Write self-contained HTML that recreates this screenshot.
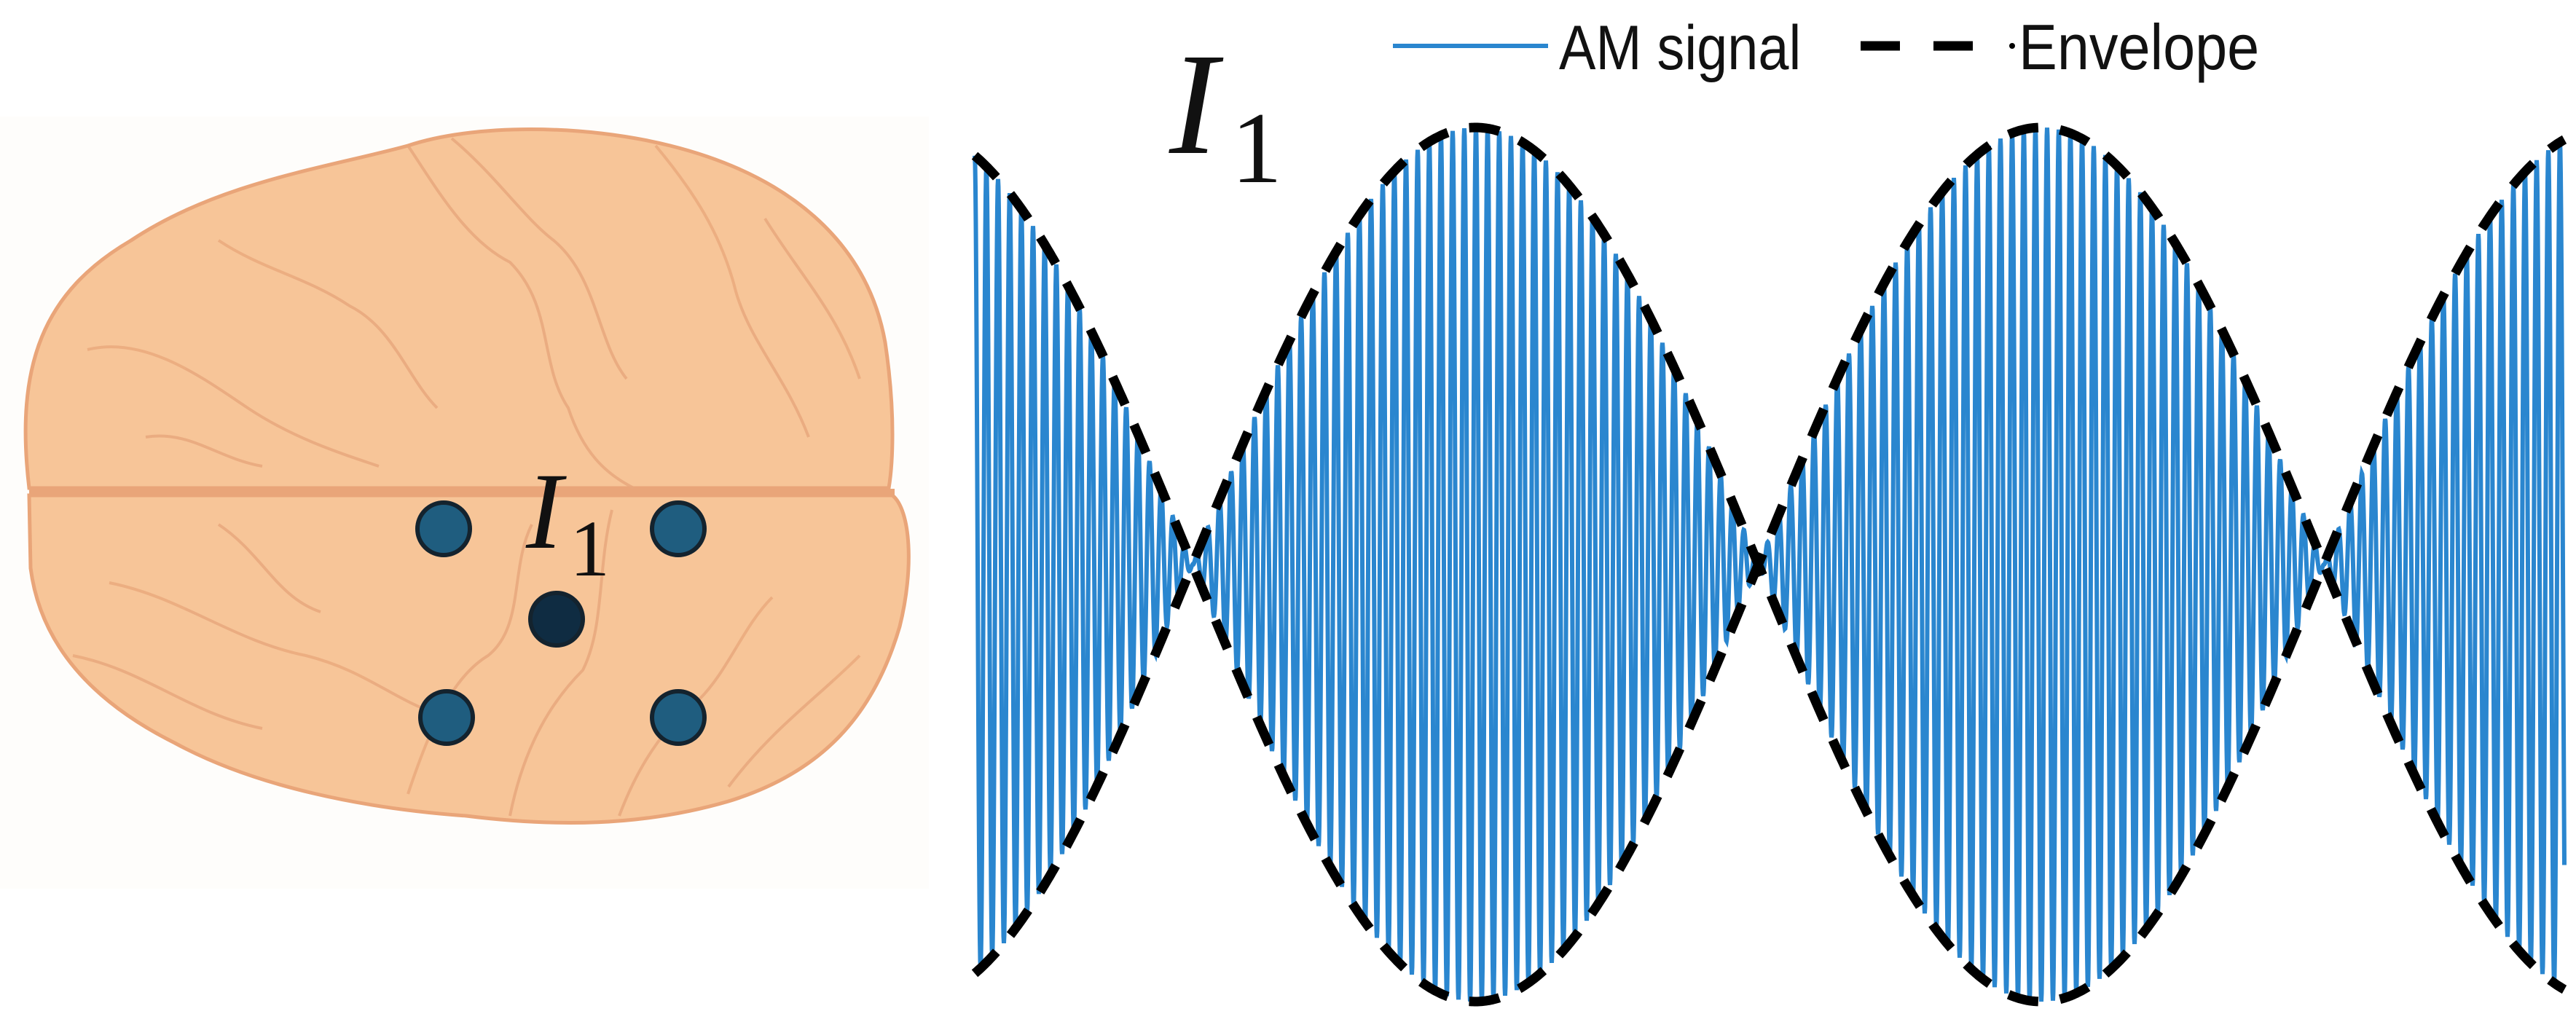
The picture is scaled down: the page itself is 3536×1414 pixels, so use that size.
<!DOCTYPE html>
<html><head><meta charset="utf-8"><style>
html,body{margin:0;padding:0;background:#fff;}
body{width:3536px;height:1414px;overflow:hidden;position:relative;}
svg{position:absolute;left:0;top:0;}
</style></head><body>
<svg id="s" width="3536" height="1414" viewBox="0 0 3536 1414" xmlns="http://www.w3.org/2000/svg">
<rect x="0" y="160" width="1275" height="1060" fill="#fefdfb"/>
<path d="M40,670 C20,500 60,400 180,330 C300,250 450,230 560,200 C650,170 800,170 920,200 C1080,240 1190,330 1215,470 C1230,570 1225,640 1220,670 Z" fill="#f7c598" stroke="#e9a579" stroke-width="5"/>
<path d="M40,680 L1225,680 C1250,700 1255,780 1235,860 C1200,980 1130,1060 1000,1100 C880,1135 760,1135 640,1120 C500,1110 350,1080 240,1020 C120,960 55,880 42,780 Z" fill="#f7c598" stroke="#e9a579" stroke-width="5"/>
<path d="M40,675 L1228,675" stroke="#e9a579" stroke-width="8"/>
<g fill="none" stroke="#e8a77c" stroke-width="4" opacity="0.8">
<path d="M560,200 C600,260 640,330 700,360 C760,420 740,500 780,560 C800,620 830,650 870,670"/>
<path d="M620,190 C680,240 720,300 760,330 C820,380 820,470 860,520"/>
<path d="M300,330 C360,370 420,380 480,420 C540,450 560,520 600,560"/>
<path d="M120,480 C200,460 280,520 340,560 C400,600 460,620 520,640"/>
<path d="M900,200 C950,260 990,320 1010,400 C1030,470 1080,520 1110,600"/>
<path d="M1050,300 C1100,380 1150,430 1180,520"/>
<path d="M200,600 C260,590 300,630 360,640"/>
<path d="M560,1090 C590,1000 620,930 670,900 C720,860 700,780 730,720"/>
<path d="M700,1120 C720,1020 760,960 800,920 C830,860 820,780 840,700"/>
<path d="M850,1120 C880,1040 920,990 960,960 C1000,920 1020,860 1060,820"/>
<path d="M150,800 C250,820 320,880 420,900 C500,920 540,960 600,980"/>
<path d="M100,900 C200,920 260,980 360,1000"/>
<path d="M1000,1080 C1060,1000 1120,960 1180,900"/>
<path d="M300,720 C360,760 380,820 440,840"/>
</g>
<g stroke="#14232e" stroke-width="6">
<circle cx="609" cy="726" r="36" fill="#1f5d7f"/>
<circle cx="931" cy="726" r="36" fill="#1f5d7f"/>
<circle cx="764" cy="850" r="36" fill="#0f2c42"/>
<circle cx="613" cy="985" r="36" fill="#1f5d7f"/>
<circle cx="931" cy="985" r="36" fill="#1f5d7f"/>
</g>
<text x="722" y="752" font-family="Liberation Serif, serif" font-style="italic" font-size="150" fill="#111">I</text>
<text x="782" y="790" font-family="Liberation Serif, serif" font-size="110" fill="#111">1</text>
<text x="1605" y="210" font-family="Liberation Serif, serif" font-style="italic" font-size="200" fill="#111">I</text>
<text x="1690" y="250" font-family="Liberation Serif, serif" font-size="140" fill="#111">1</text>
<path id="car" fill="none" stroke="#2a86cf" stroke-width="6"/>
<path id="env" fill="none" stroke="#000" stroke-width="13" stroke-dasharray="42 30"/>
<line x1="1912" y1="63" x2="2125" y2="63" stroke="#2a86cf" stroke-width="6"/>
<text x="2140" y="95" font-family="Liberation Sans, sans-serif" font-size="86" fill="#111" transform="translate(2140 0) scale(0.88 1) translate(-2140 0)">AM signal</text>
<line x1="2554" y1="63" x2="2608" y2="63" stroke="#000" stroke-width="13"/>
<line x1="2654" y1="63" x2="2708" y2="63" stroke="#000" stroke-width="13"/>
<circle cx="2762" cy="63" r="4" fill="#000"/>
<text x="2771" y="95" font-family="Liberation Sans, sans-serif" font-size="88" fill="#111" transform="translate(2771 0) scale(0.9 1) translate(-2771 0)">Envelope</text>
</svg>
<script>
var x0=1338,x1=3520,cy=775,A=600,n0=1637,L=776.5,P=16;
function env(x){return A*Math.abs(Math.sin(Math.PI*(x-n0)/L));}
var d='';
for(var x=x0;x<=x1;x+=0.5){var y=cy-env(x)*Math.cos(2*Math.PI*(x-x0)/P);d+=(x==x0?'M':'L')+x+','+y.toFixed(1);}
document.getElementById('car').setAttribute('d',d);
var e='';
for(var x=x0;x<=x1;x+=2){e+=(x==x0?'M':'L')+x+','+(cy-env(x)).toFixed(1);}
for(var x=x0;x<=x1;x+=2){e+=(x==x0?'M':'L')+x+','+(cy+env(x)).toFixed(1);}
document.getElementById('env').setAttribute('d',e);
</script>
</body></html>
